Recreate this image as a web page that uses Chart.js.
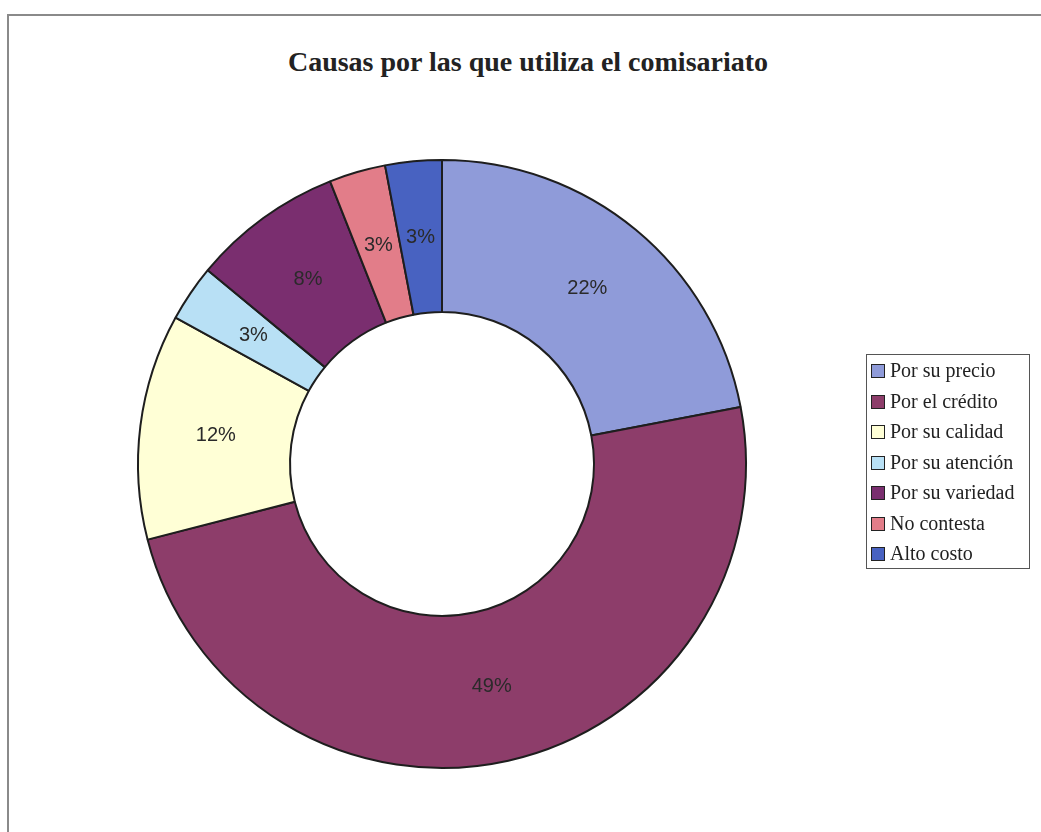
<!DOCTYPE html>
<html>
<head>
<meta charset="utf-8">
<title>Causas por las que utiliza el comisariato</title>
<script src="https://cdn.jsdelivr.net/npm/chart.js@4"></script>
<style>
	body { margin: 0; background: #fff; overflow: hidden; }
	.frame {
		position: absolute; left: 7px; top: 14px;
		width: 1100px; height: 900px;
		border-left: 2px solid #8a8a8a; border-top: 2px solid #8a8a8a;
	}
	.title {
		position: absolute; left: 0; top: 45px; width: 1056px;
		text-align: center; line-height: 34px;
		font-family: "Liberation Serif", "Times New Roman", serif;
		font-size: 28px; font-weight: bold; color: #222;
	}
	.chart-box { position: absolute; left: 0; top: 0; width: 884px; height: 832px; }
	.legend {
		position: absolute; left: 866px; top: 354px;
		width: 164px; height: 215px;
		border: 1px solid #555;
		font-family: "Liberation Serif", "Times New Roman", serif;
		font-size: 20px; color: #222;
		box-sizing: border-box;
	}
	.legend-item { height: 30.5px; line-height: 30.5px; white-space: nowrap; padding-left: 4px; }
	.legend-swatch {
		display: inline-block; width: 12px; height: 12px;
		border: 1.5px solid #222; margin-right: 5px; vertical-align: -1px;
	}
</style>
</head>
<body>
<div class="frame"></div>
<div class="title">Causas por las que utiliza el comisariato</div>
<div class="chart-box"><canvas id="chart"></canvas></div>
<div class="legend" id="legend"></div>

<script>
const causas = [
	'Por su precio',
	'Por el crédito',
	'Por su calidad',
	'Por su atención',
	'Por su variedad',
	'No contesta',
	'Alto costo'
];
const porcentajes = [22, 49, 12, 3, 8, 3, 3];
const colores = ['#8f9bd9', '#8d3d6a', '#ffffd6', '#b8e0f5', '#7a2e6f', '#e27d89', '#4862c1'];

// percentage labels in the middle of each ring segment
const etiquetas = {
	id: 'etiquetas',
	afterDatasetsDraw(chart) {
		const ctx = chart.ctx;
		const meta = chart.getDatasetMeta(0);
		ctx.save();
		ctx.font = '20px "Liberation Sans", Arial, sans-serif';
		ctx.fillStyle = '#2a2a2a';
		ctx.textAlign = 'center';
		ctx.textBaseline = 'middle';
		meta.data.forEach((arc, i) => {
			const pos = arc.tooltipPosition();
			ctx.fillText(porcentajes[i] + '%', pos.x, pos.y);
		});
		ctx.restore();
	}
};

new Chart(document.getElementById('chart'), {
	type: 'doughnut',
	data: {
		labels: causas,
		datasets: [{
			data: porcentajes,
			backgroundColor: colores,
			borderColor: '#1e1e1e',
			borderWidth: 2,
		}]
	},
	options: {
		responsive: true,
		maintainAspectRatio: false,
		animation: false,
		cutout: '50%',
		layout: { padding: { top: 159, bottom: 63 } },
		plugins: {
			legend: { display: false },
			tooltip: { enabled: false },
		},
	},
	plugins: [etiquetas],
});

// legend drawn next to the chart
const legend = document.getElementById('legend');
causas.forEach((causa, i) => {
	const item = document.createElement('div');
	item.className = 'legend-item';
	const swatch = document.createElement('span');
	swatch.className = 'legend-swatch';
	swatch.style.background = colores[i];
	item.appendChild(swatch);
	item.appendChild(document.createTextNode(causa));
	legend.appendChild(item);
});
</script>
</body>
</html>
